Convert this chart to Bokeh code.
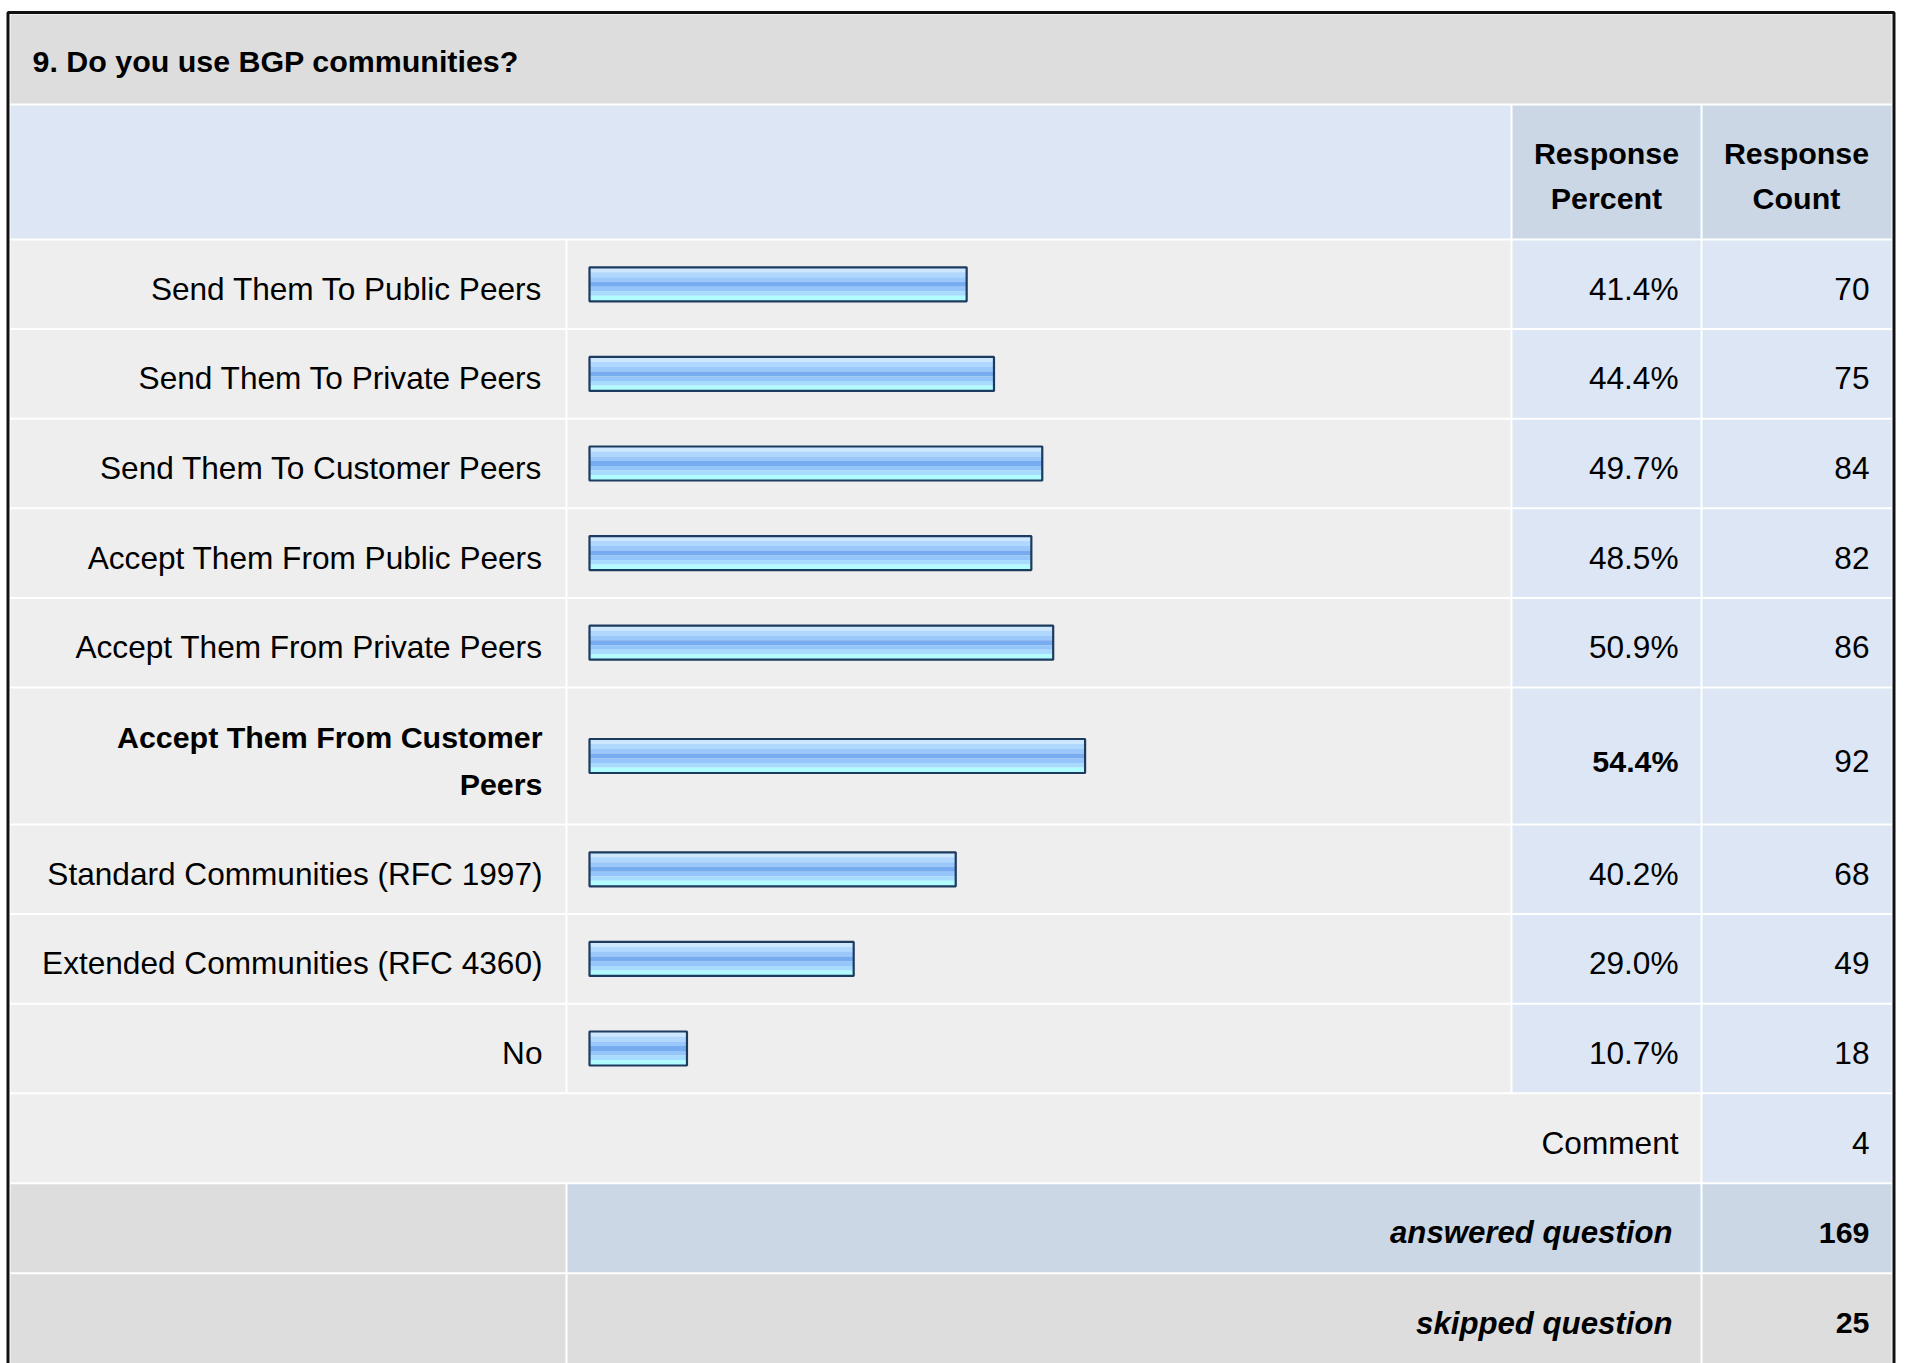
import textwrap
from bokeh.plotting import figure
from bokeh.models import Range1d, ColumnDataSource
from bokeh.core.properties import value
from bokeh.embed import file_html
from bokeh.resources import INLINE

# ---------------- data ----------------
title_text = "9. Do you use BGP communities?"
header_percent = "Response\nPercent"
header_count = "Response\nCount"
categories = [
    "Send Them To Public Peers",
    "Send Them To Private Peers",
    "Send Them To Customer Peers",
    "Accept Them From Public Peers",
    "Accept Them From Private Peers",
    "Accept Them From Customer Peers",
    "Standard Communities (RFC 1997)",
    "Extended Communities (RFC 4360)",
    "No",
]
percents = [41.4, 44.4, 49.7, 48.5, 50.9, 54.4, 40.2, 29.0, 10.7]
counts = [70, 75, 84, 82, 86, 92, 68, 49, 18]
comment_label = "Comment"
comment_count = 4
answered_label = "answered question"
answered_count = 169
skipped_label = "skipped question"
skipped_count = 25

# ---------------- layout (page pixels) ----------------
W, H = 1911, 1363
BAR_X0 = 589          # page x of 0 %
PX_PER_PCT = 9.11     # pixels per percentage point

def X(px):
    return (px - BAR_X0) / PX_PER_PCT

def Y(py):
    return py

FONT = "Liberation Sans"
NORMAL = "31.6px"
BOLD = "30.4px"
BOLD_ITALIC = "31.2px"

C0 = (10, 565)
C1 = (567, 1510)
C2 = (1512, 1700)
C3 = (1702, 1891)

GRAY = "#dddddd"
LIGHT = "#eeeeee"
BLUE = "#dce6f4"
BLUE2 = "#cbd7e5"

top_idx = max(range(len(percents)), key=lambda i: percents[i])
row_h = [137 if i == top_idx else 89.6 for i in range(len(categories))]
bounds = [239.0]
for h in row_h + [90, 90, 91]:
    bounds.append(bounds[-1] + h)

p = figure(width=W, height=H, output_backend="svg", toolbar_location=None,
           x_range=Range1d(X(0), X(W)), y_range=Range1d(Y(H), Y(0)),
           x_axis_location=None, y_axis_location=None, min_border=0,
           outline_line_color=None, background_fill_color="white",
           border_fill_color="white")
p.grid.visible = False

cells = []
def cell(c_from, c_to, t, b, color):
    cells.append((X(c_from[0]), X(c_to[1]), Y(t), Y(b), color))

cell(C0, C3, 14, 103, GRAY)
cell(C0, C1, 105, 238, BLUE)
cell(C2, C2, 105, 238, BLUE2)
cell(C3, C3, 105, 238, BLUE2)
n = len(categories)
for i in range(n):
    t, b = bounds[i] + 1, bounds[i + 1] - 1
    cell(C0, C0, t, b, LIGHT)
    cell(C1, C1, t, b, LIGHT)
    cell(C2, C2, t, b, BLUE)
    cell(C3, C3, t, b, BLUE)
# comment
t, b = bounds[n] + 1, bounds[n + 1] - 1
cell(C0, C2, t, b, LIGHT)
cell(C3, C3, t, b, BLUE)
# answered
t, b = bounds[n + 1] + 1, bounds[n + 2] - 1
cell(C0, C0, t, b, GRAY)
cell(C1, C2, t, b, BLUE2)
cell(C3, C3, t, b, BLUE2)
# skipped
t, b = bounds[n + 2] + 1, bounds[n + 3] + 20
cell(C0, C0, t, b, GRAY)
cell(C1, C2, t, b, GRAY)
cell(C3, C3, t, b, GRAY)

p.quad(left=[c[0] for c in cells], right=[c[1] for c in cells],
       top=[c[2] for c in cells], bottom=[c[3] for c in cells],
       fill_color=[c[4] for c in cells], line_color=None)

# outer border
p.quad(left=[X(7.5)], right=[X(1893.5)], top=[Y(12)], bottom=[Y(1420)],
       fill_alpha=0, line_color="#111111", line_width=3)

# ---------------- bars ----------------
centers = [Y((bounds[i] + bounds[i + 1]) / 2) for i in range(n)]
stripes = [
    (-16.5, -12.0, "#cde7ff"),
    (-12.0, -7.0, "#b0d8ff"),
    (-7.0, -2.5, "#9ac8fb"),
    (-2.5, 2.5, "#78acf0"),
    (2.5, 7.0, "#94c6fb"),
    (7.0, 11.5, "#a8dcff"),
    (11.5, 16.5, "#b0fcff"),
]
for a, bb, col in stripes:
    src = ColumnDataSource(dict(y=[c + (a + bb) / 2 for c in centers], right=percents))
    p.hbar(y="y", height=bb - a, left=0, right="right", source=src,
           fill_color=col, line_color=None)
src = ColumnDataSource(dict(y=centers, right=percents))
p.hbar(y="y", height=34, left=0, right="right", source=src,
       fill_alpha=0, line_color="#1d3a5f", line_width=2.2)

# ---------------- texts ----------------
DY = 4.5

def txt(x, y, s, align="right", bold=False, italic=False, size=None, lh=1.2):
    style = "bold italic" if (bold and italic) else ("bold" if bold else ("italic" if italic else "normal"))
    if size is None:
        size = BOLD_ITALIC if (bold and italic) else (BOLD if bold else NORMAL)
    p.text(x=[X(x)], y=[Y(y)], text=[s], text_align=align, text_baseline="middle",
           text_font=value(FONT), text_font_size=value(size),
           text_font_style=style, text_color="#000000", text_line_height=lh)

txt(32, 60, title_text, align="left", bold=True)
txt(1606, 175, header_percent, align="center", bold=True, lh=1.35)
txt(1796, 175, header_count, align="center", bold=True, lh=1.35)

for i, cat in enumerate(categories):
    yc = (bounds[i] + bounds[i + 1]) / 2 + DY
    bold = (i == top_idx)
    label = textwrap.fill(cat, 25) if bold else cat
    txt(542, yc, label, bold=bold, lh=1.36)
    txt(1678, yc, f"{percents[i]:.1f}%", bold=bold)
    txt(1869, yc, str(counts[i]))

yc = (bounds[n] + bounds[n + 1]) / 2 + DY
txt(1678, yc, comment_label)
txt(1869, yc, str(comment_count))
yc = (bounds[n + 1] + bounds[n + 2]) / 2 + DY
txt(1672, yc, answered_label, bold=True, italic=True)
txt(1869, yc, str(answered_count), bold=True)
yc = (bounds[n + 2] + bounds[n + 3]) / 2 + DY
txt(1672, yc, skipped_label, bold=True, italic=True)
txt(1869, yc, str(skipped_count), bold=True)

open("out.html", "w").write(file_html(p, INLINE))
